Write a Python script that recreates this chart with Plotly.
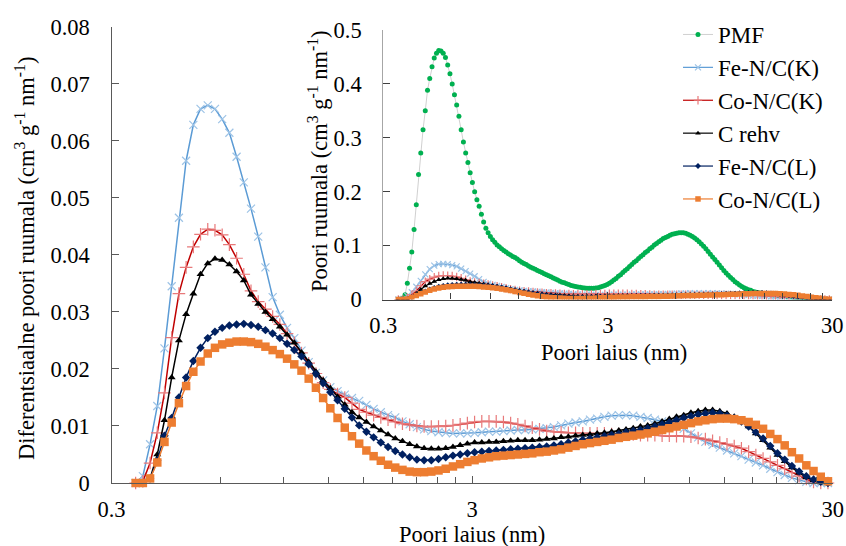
import math
import plotly.graph_objects as go

# Pore widths (nm) of the DFT pore size distributions of the catalysts
pore_width = [
    0.350, 0.3665, 0.3838, 0.4019, 0.4208, 0.4406, 0.4614, 0.4831, 0.5059, 0.5297,
    0.5547, 0.5808, 0.6082, 0.6368, 0.6668, 0.6982, 0.7311, 0.7656, 0.8017, 0.8395,
    0.8790, 0.9204, 0.9638, 1.0093, 1.0568, 1.1066, 1.1588, 1.2134, 1.2706, 1.3305,
    1.3932, 1.4588, 1.5276, 1.5996, 1.6749, 1.7539, 1.8365, 1.9231, 2.0137, 2.1086,
    2.2080, 2.3121, 2.4210, 2.5351, 2.6546, 2.7797, 2.9107, 3.0479, 3.1915, 3.3419,
    3.4995, 3.6644, 3.8371, 4.0179, 4.2073, 4.4055, 4.6132, 4.8306, 5.0582, 5.2966,
    5.5463, 5.8076, 6.0814, 6.3680, 6.6681, 6.9823, 7.3114, 7.6560, 8.0168, 8.3946,
    8.7902, 9.2045, 9.6383, 10.093, 10.568, 11.066, 11.588, 12.134, 12.706, 13.305,
    13.932, 14.588, 15.276, 15.996, 16.749, 17.539, 18.365, 19.231, 20.137, 21.086,
    22.080, 23.121, 24.210, 25.351, 26.546, 27.797, 29.107,
]

# Pore widths (nm) of the PMF distribution
pmf_width = [
    0.350, 0.3581, 0.3665, 0.3750, 0.3838, 0.3927, 0.4019, 0.4113, 0.4208, 0.4306,
    0.4406, 0.4509, 0.4614, 0.4721, 0.4831, 0.4944, 0.5059, 0.5177, 0.5297, 0.5420,
    0.5547, 0.5676, 0.5808, 0.5943, 0.6082, 0.6224, 0.6368, 0.6516, 0.6668, 0.6823,
    0.6982, 0.7145, 0.7311, 0.7481, 0.7656, 0.7834, 0.8017, 0.8204, 0.8395, 0.8591,
    0.8790, 0.8995, 0.9204, 0.9418, 0.9638, 0.9862, 1.0093, 1.0328, 1.0568, 1.0814,
    1.1066, 1.1324, 1.1588, 1.1858, 1.2134, 1.2417, 1.2706, 1.3002, 1.3305, 1.3615,
    1.3932, 1.4257, 1.4588, 1.4928, 1.5276, 1.5632, 1.5996, 1.6369, 1.6749, 1.7139,
    1.7539, 1.7948, 1.8365, 1.8793, 1.9231, 1.9679, 2.0137, 2.0606, 2.1086, 2.1577,
    2.2080, 2.2594, 2.3121, 2.3660, 2.4210, 2.4774, 2.5351, 2.5942, 2.6546, 2.7164,
    2.7797, 2.8444, 2.9107, 2.9785, 3.0479, 3.1189, 3.1915, 3.2658, 3.3419, 3.4197,
    3.4995, 3.5810, 3.6644, 3.7498, 3.8371, 3.9265, 4.0179, 4.1115, 4.2073, 4.3053,
    4.4055, 4.5081, 4.6132, 4.7207, 4.8306, 4.9431, 5.0582, 5.1760, 5.2966, 5.4200,
    5.5463, 5.6755, 5.8076, 5.9429, 6.0814, 6.2231, 6.3680, 6.5163, 6.6681, 6.8234,
    6.9823, 7.1449, 7.3114, 7.4817, 7.6560, 7.8343, 8.0168, 8.2035, 8.3946, 8.5901,
    8.7902, 8.9949, 9.2045, 9.4189, 9.6383, 9.8628, 10.093, 10.328, 10.568, 10.814,
    11.066, 11.324, 11.588, 11.858, 12.134, 12.417, 12.706, 13.002, 13.305, 13.615,
    13.932, 14.257, 14.588, 14.928, 15.276, 15.632, 15.996, 16.369, 16.749, 17.139,
    17.539, 17.948, 18.365, 18.793, 19.231, 19.679, 20.137, 20.606, 21.086, 21.577,
    22.080, 22.594, 23.121, 23.660, 24.210, 24.774, 25.351, 25.942, 26.546, 27.164,
    27.797, 28.444, 29.107,
]

# Differential pore volume, cm3 g-1 nm-1
pmf = [
    0, 0.001, 0.003, 0.009, 0.030, 0.058, 0.088, 0.130, 0.176, 0.232,
    0.272, 0.315, 0.350, 0.388, 0.410, 0.432, 0.448, 0.457, 0.462, 0.461,
    0.457, 0.449, 0.435, 0.419, 0.400, 0.380, 0.361, 0.340, 0.315, 0.292,
    0.272, 0.254, 0.235, 0.217, 0.200, 0.185, 0.173, 0.158, 0.144, 0.132,
    0.124, 0.117, 0.111, 0.106, 0.101, 0.098, 0.094, 0.091, 0.088, 0.085,
    0.0826, 0.080, 0.078, 0.075, 0.072, 0.069, 0.067, 0.065, 0.062, 0.060,
    0.058, 0.056, 0.054, 0.052, 0.050, 0.048, 0.046, 0.044, 0.042, 0.040,
    0.038, 0.036, 0.034, 0.032, 0.031, 0.029, 0.028, 0.026, 0.025, 0.024,
    0.023, 0.0225, 0.022, 0.0215, 0.021, 0.021, 0.021, 0.021, 0.0215, 0.022,
    0.023, 0.0245, 0.026, 0.028, 0.030, 0.033, 0.036, 0.039, 0.043, 0.046,
    0.050, 0.054, 0.057, 0.061, 0.065, 0.069, 0.072, 0.076, 0.080, 0.083,
    0.087, 0.090, 0.094, 0.097, 0.101, 0.104, 0.107, 0.110, 0.113, 0.115,
    0.117, 0.119, 0.121, 0.122, 0.123, 0.124, 0.124, 0.124, 0.123, 0.121,
    0.119, 0.117, 0.114, 0.111, 0.107, 0.103, 0.099, 0.094, 0.089, 0.084,
    0.079, 0.074, 0.069, 0.064, 0.059, 0.054, 0.049, 0.045, 0.041, 0.037,
    0.033, 0.030, 0.027, 0.024, 0.022, 0.020, 0.018, 0.017, 0.015, 0.014,
    0.013, 0.012, 0.0115, 0.011, 0.010, 0.0095, 0.009, 0.0085, 0.008, 0.0075,
    0.007, 0.0065, 0.006, 0.0055, 0.005, 0.0045, 0.004, 0.0035, 0.003, 0.0026,
    0.0022, 0.0019, 0.0016, 0.0013, 0.001, 0.0008, 0.0006, 0.0004, 0.0003, 0.0002,
    0.0001, 0, 0,
]

fe_nc_k = [
    0, 0.0012, 0.0068, 0.0135, 0.0236, 0.0345, 0.0465, 0.0565, 0.0628, 0.0656,
    0.0662, 0.0656, 0.0638, 0.0614, 0.0572, 0.0527, 0.0481, 0.0432, 0.0378, 0.0326,
    0.0295, 0.0272, 0.0254, 0.0232, 0.0212, 0.0193, 0.0180, 0.0168, 0.0161, 0.0155,
    0.0149, 0.0144, 0.0137, 0.0130, 0.0124, 0.0119, 0.0115, 0.0108, 0.0103, 0.0098,
    0.0094, 0.0091, 0.0089, 0.0088, 0.0087, 0.0087, 0.0087, 0.0088, 0.0089, 0.0090,
    0.0090, 0.0091, 0.0092, 0.0093, 0.0093, 0.0094, 0.0095, 0.0096, 0.0098, 0.0101,
    0.0104, 0.0106, 0.0108, 0.0111, 0.0113, 0.0116, 0.0118, 0.0119, 0.0119, 0.0118,
    0.0116, 0.0114, 0.0111, 0.0108, 0.0105, 0.0101, 0.0095, 0.0087, 0.0080, 0.0072,
    0.0067, 0.0062, 0.0057, 0.0052, 0.0047, 0.0041, 0.0036, 0.0031, 0.0025, 0.0019,
    0.0014, 0.0009, 0.0005, 0.0002, 0, 0, 0,
]

co_nc_k = [
    0, 0.0003, 0.0035, 0.0088, 0.0158, 0.0255, 0.0332, 0.0378, 0.0414, 0.0436,
    0.0445, 0.0443, 0.0435, 0.0418, 0.0394, 0.0366, 0.0337, 0.0318, 0.0305, 0.0292,
    0.0278, 0.0262, 0.0246, 0.0228, 0.0210, 0.0192, 0.0176, 0.0164, 0.0156, 0.0150,
    0.0140, 0.0129, 0.0124, 0.0119, 0.0115, 0.0111, 0.0107, 0.0104, 0.0102, 0.0100,
    0.0099, 0.0099, 0.0099, 0.0100, 0.0101, 0.0103, 0.0105, 0.0107, 0.0108, 0.0108,
    0.0108, 0.0107, 0.0105, 0.0103, 0.0100, 0.0097, 0.0094, 0.0091, 0.0090, 0.0089,
    0.0088, 0.0088, 0.0087, 0.0087, 0.0087, 0.0087, 0.0086, 0.0086, 0.0085, 0.0085,
    0.0084, 0.0084, 0.0084, 0.0083, 0.0083, 0.0082, 0.0082, 0.0081, 0.0079, 0.0077,
    0.0074, 0.0071, 0.0068, 0.0065, 0.0061, 0.0055, 0.0049, 0.0043, 0.0037, 0.0031,
    0.0025, 0.0018, 0.0012, 0.0007, 0.0002, 0, 0,
]

c_rehv = [
    0, 0, 0.0008, 0.0050, 0.0110, 0.0185, 0.0250, 0.0296, 0.0332, 0.0366,
    0.0385, 0.0393, 0.0391, 0.0383, 0.0371, 0.0355, 0.0330, 0.0314, 0.0300, 0.0287,
    0.0274, 0.0260, 0.0246, 0.0229, 0.0212, 0.0195, 0.0180, 0.0166, 0.0151, 0.0137,
    0.0124, 0.0115, 0.0107, 0.0099, 0.0092, 0.0085, 0.0078, 0.0073, 0.0068, 0.0064,
    0.0061, 0.0060, 0.0060, 0.0061, 0.0063, 0.0066, 0.0069, 0.0071, 0.0071, 0.0072,
    0.0072, 0.0073, 0.0074, 0.0075, 0.0075, 0.0075, 0.0076, 0.0077, 0.0078, 0.0080,
    0.0081, 0.0083, 0.0084, 0.0085, 0.0087, 0.0088, 0.0090, 0.0092, 0.0094, 0.0096,
    0.0099, 0.0101, 0.0104, 0.0108, 0.0112, 0.0116, 0.0119, 0.0123, 0.0126, 0.0128,
    0.0128, 0.0126, 0.0122, 0.0116, 0.0109, 0.0099, 0.0087, 0.0075, 0.0062, 0.0049,
    0.0038, 0.0027, 0.0018, 0.0010, 0.0005, 0.0001, 0,
]

fe_nc_l = [
    0, 0, 0.0008, 0.0040, 0.0083, 0.0114, 0.0150, 0.0185, 0.0214, 0.0237,
    0.0254, 0.0265, 0.0272, 0.0276, 0.0278, 0.0279, 0.0277, 0.0274, 0.0268, 0.0262,
    0.0254, 0.0244, 0.0233, 0.0222, 0.0208, 0.0191, 0.0175, 0.0159, 0.0145, 0.0130,
    0.0115, 0.0101, 0.0090, 0.0080, 0.0071, 0.0063, 0.0056, 0.0050, 0.0045, 0.0041,
    0.0040, 0.0040, 0.0042, 0.0045, 0.0048, 0.0050, 0.0052, 0.0054, 0.0055, 0.0056,
    0.0057, 0.0058, 0.0059, 0.0060, 0.0061, 0.0062, 0.0063, 0.0064, 0.0066, 0.0068,
    0.0071, 0.0073, 0.0076, 0.0078, 0.0080, 0.0082, 0.0084, 0.0086, 0.0089, 0.0091,
    0.0093, 0.0096, 0.0099, 0.0103, 0.0106, 0.0110, 0.0114, 0.0117, 0.0120, 0.0122,
    0.0123, 0.0122, 0.0118, 0.0114, 0.0108, 0.0099, 0.0089, 0.0078, 0.0065, 0.0052,
    0.0041, 0.0030, 0.0020, 0.0012, 0.0006, 0.0002, 0,
]

co_nc_l = [
    0, 0, 0.0008, 0.0036, 0.0072, 0.0106, 0.0140, 0.0170, 0.0195, 0.0213,
    0.0227, 0.0237, 0.0243, 0.0246, 0.0248, 0.0248, 0.0247, 0.0244, 0.0239, 0.0233,
    0.0226, 0.0218, 0.0208, 0.0197, 0.0183, 0.0167, 0.0149, 0.0131, 0.0114, 0.0097,
    0.0082, 0.0069, 0.0057, 0.0047, 0.0039, 0.0032, 0.0027, 0.0023, 0.0020, 0.0019,
    0.0019, 0.0020, 0.0022, 0.0025, 0.0029, 0.0033, 0.0037, 0.0040, 0.0043, 0.0045,
    0.0047, 0.0048, 0.0049, 0.0050, 0.0051, 0.0052, 0.0054, 0.0055, 0.0057, 0.0059,
    0.0062, 0.0065, 0.0068, 0.0070, 0.0072, 0.0074, 0.0076, 0.0079, 0.0081, 0.0083,
    0.0085, 0.0087, 0.0090, 0.0093, 0.0096, 0.0099, 0.0102, 0.0105, 0.0108, 0.0110,
    0.0112, 0.0113, 0.0113, 0.0112, 0.0110, 0.0107, 0.0102, 0.0095, 0.0086, 0.0077,
    0.0066, 0.0054, 0.0043, 0.0031, 0.0021, 0.0011, 0.0003,
]

x_major = [0.3, 3, 30]
x_major_text = ["0.3", "3", "30"]
x_minor = [0.6, 0.9, 1.2, 1.5, 1.8, 2.1, 2.4, 2.7, 6, 9, 12, 15, 18, 21, 24, 27]
main_yticks = [0, 0.01, 0.02, 0.03, 0.04, 0.05, 0.06, 0.07, 0.08]
inset_yticks = [0, 0.1, 0.2, 0.3, 0.4, 0.5]

W, H = 846, 546
FONT = "Liberation Serif, Times New Roman, DejaVu Serif, serif"


def fx(px):
    return px / W


def fy(py):
    return 1 - py / H


# name, values, line colour, marker symbol, marker colour, main size, inset size, open marker
samples = [
    ("Fe-N/C(K)", fe_nc_k, "#5b9bd5", "x-thin", "#9dc3e6", 8, 6, True),
    ("Co-N/C(K)", co_nc_k, "#c00000", "cross-thin", "#e8797a", 9, 6, True),
    ("C rehv", c_rehv, "#000000", "triangle-up", "#000000", 7, 5, False),
    ("Fe-N/C(L)", fe_nc_l, "#002060", "diamond", "#002060", 6.5, 4.5, False),
    ("Co-N/C(L)", co_nc_l, "#ed7d31", "square", "#ed7d31", 8.5, 5.5, False),
]

fig = go.Figure()


def marker_style(symbol, color, size, open_line):
    if open_line:
        return dict(symbol=symbol, size=size, color=color,
                    line=dict(color=color, width=1.2))
    return dict(symbol=symbol, size=size, color=color, line=dict(width=0))


# main chart: the five catalysts
for name, vals, lcol, sym, mcol, msize, _, open_line in samples:
    fig.add_trace(go.Scatter(
        x=pore_width, y=vals, mode="lines+markers", name=name,
        line=dict(color=lcol, width=1.5),
        marker=marker_style(sym, mcol, msize, open_line),
        xaxis="x", yaxis="y", showlegend=False, cliponaxis=False,
    ))

# inset chart: PMF together with the catalysts
fig.add_trace(go.Scatter(
    x=pmf_width, y=pmf, mode="lines+markers", name="PMF",
    line=dict(color="#d0d0d0", width=1),
    marker=dict(symbol="circle", size=5, color="#00b050"),
    xaxis="x2", yaxis="y2", legendgroup="PMF",
))
for name, vals, lcol, sym, mcol, _, isize, open_line in samples:
    fig.add_trace(go.Scatter(
        x=pore_width, y=vals, mode="lines+markers", name=name,
        line=dict(color=lcol, width=1.2),
        marker=marker_style(sym, mcol, isize, open_line),
        xaxis="x2", yaxis="y2", legendgroup=name,
    ))

tick_font = dict(family=FONT, size=22.5, color="#000000")
log_range = [math.log10(0.3), math.log10(30)]


def x_axis(domain, anchor, color, standoff):
    return dict(
        type="log", range=log_range, domain=domain, anchor=anchor,
        tickmode="array", tickvals=x_major, ticktext=x_major_text,
        ticks="inside", ticklen=7, tickwidth=1.2, tickcolor=color,
        showgrid=False, zeroline=False, showline=True, linecolor=color,
        linewidth=1.3, tickfont=tick_font, automargin=False,
        ticklabelstandoff=standoff,
        minor=dict(tickmode="array", tickvals=x_minor, ticks="inside",
                   ticklen=6, tickwidth=1.2, tickcolor=color, showgrid=False),
    )


def y_axis(rng, ticks, domain, anchor, line_color, tick_color):
    return dict(
        range=rng, domain=domain, anchor=anchor, tickmode="array",
        tickvals=ticks, ticks="inside", ticklen=7, tickwidth=1.2,
        tickcolor=tick_color, showline=True, linecolor=line_color,
        linewidth=1.3, showgrid=False, zeroline=False, tickfont=tick_font,
        automargin=False, ticklabelstandoff=16,
    )


fig.update_layout(
    width=W, height=H,
    margin=dict(l=0, r=0, t=0, b=0, autoexpand=False),
    paper_bgcolor="white", plot_bgcolor="rgba(0,0,0,0)",
    font=dict(family=FONT, color="#000000"),
    xaxis=x_axis([fx(111.5), fx(832.7)], "y", "#595959", 6),
    yaxis=y_axis([0, 0.08], main_yticks, [fy(483), fy(26.7)], "x",
                 "#595959", "#595959"),
    xaxis2=x_axis([fx(383.3), fx(832.3)], "y2", "#404040", 5),
    yaxis2=y_axis([0, 0.5], inset_yticks, [fy(299.5), fy(30)], "x2",
                  "#a6a6a6", "#404040"),
    legend=dict(x=fx(678), y=fy(13), xanchor="left", yanchor="top",
                font=dict(family=FONT, size=23, color="#000000"),
                bgcolor="rgba(0,0,0,0)", traceorder="normal",
                tracegroupgap=0, itemwidth=30),
    showlegend=True,
)

title_font = dict(family=FONT, size=22.5, color="#000000")
sup = "(cm<sup>3</sup> g<sup>-1</sup> nm<sup>-1</sup>)"
fig.add_annotation(text="Diferentsiaalne poori ruumala " + sup,
                   x=fx(25), y=fy(259), xref="paper", yref="paper",
                   textangle=-90, showarrow=False, font=title_font,
                   xanchor="center", yanchor="middle")
fig.add_annotation(text="Poori laius (nm)", x=fx(471.5), y=fy(534),
                   xref="paper", yref="paper", showarrow=False,
                   font=title_font, xanchor="center", yanchor="middle")
fig.add_annotation(text="Poori ruumala " + sup,
                   x=fx(318), y=fy(161), xref="paper", yref="paper",
                   textangle=-90, showarrow=False, font=title_font,
                   xanchor="center", yanchor="middle")
fig.add_annotation(text="Poori laius (nm)", x=fx(614), y=fy(352),
                   xref="paper", yref="paper", showarrow=False,
                   font=title_font, xanchor="center", yanchor="middle")

fig.write_html("out.html")
